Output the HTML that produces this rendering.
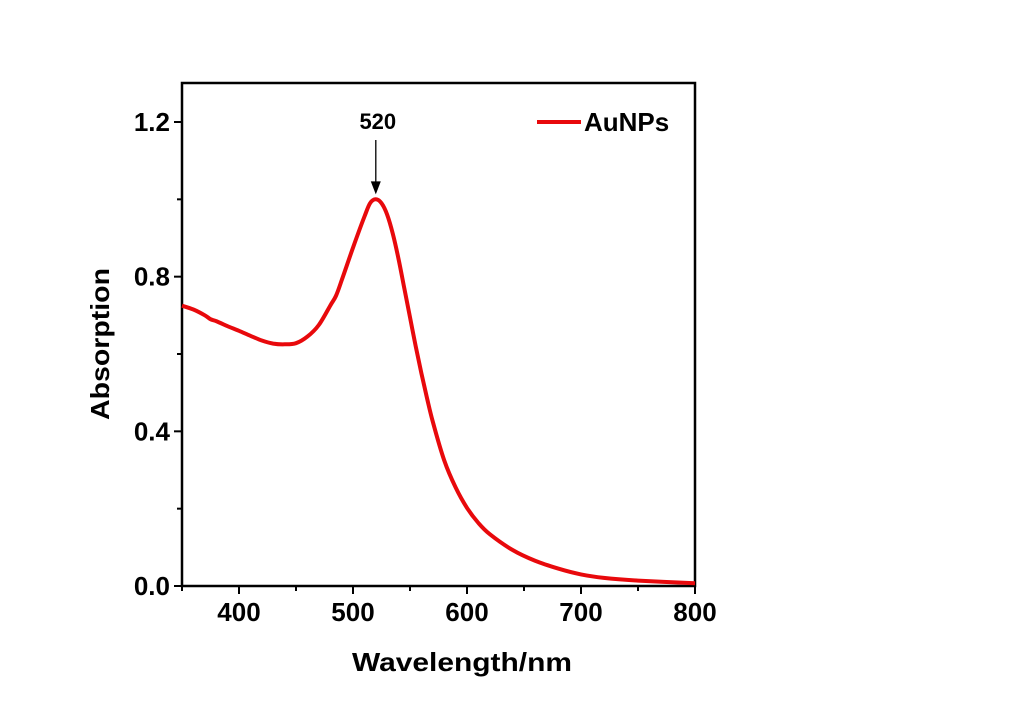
<!DOCTYPE html>
<html><head><meta charset="utf-8"><style>
body{margin:0;background:#fff}
text{font-family:"Liberation Sans",Arial,sans-serif;font-weight:bold;fill:#000}
</style></head><body>
<svg id="chart" width="1024" height="718" viewBox="0 0 1024 718" xmlns="http://www.w3.org/2000/svg">
<rect width="1024" height="718" fill="#fff"/>
<g id="g"></g>
</svg>
<script>
const wavelengths=[350,360,370,375,380,390,400,410,420,430,440,450,460,470,480,485,490,500,510,515,520,525,530,535,540,545,550,555,560,565,570,580,590,600,610,620,640,660,680,700,720,750,800];
const absorbance=[0.725,0.715,0.70,0.69,0.685,0.672,0.66,0.647,0.635,0.627,0.625,0.628,0.645,0.675,0.725,0.75,0.79,0.875,0.955,0.99,1.0,0.99,0.96,0.91,0.845,0.77,0.695,0.62,0.55,0.485,0.425,0.325,0.255,0.202,0.163,0.134,0.093,0.065,0.045,0.03,0.021,0.014,0.007];
const xTicks=[400,500,600,700,800];
const yTicks=[0.0,0.4,0.8,1.2];
const yTickLabels=["0.0","0.4","0.8","1.2"];
const peakValue=520;

const L=182,R=695,T=83,B=586;
const X=v=>L+(v-350)*(R-L)/450;
const Y=v=>B-v*(B-122)/1.2;
const g=document.getElementById('g');
const NS='http://www.w3.org/2000/svg';
function mk(t,a,txt){const e=document.createElementNS(NS,t);for(const k in a)e.setAttribute(k,a[k]);if(txt!=null)e.textContent=txt;g.appendChild(e);return e;}

let e=mk('rect',{x:L,y:T,width:R-L,height:B-T,fill:'none',stroke:'#000','stroke-width':2.5});



for(let v=350;v<=800;v+=50){
  const major=v%100===0;
  e=mk('line',{x1:X(v),x2:X(v),y1:B,y2:B+(major?8:5),stroke:'#000','stroke-width':2});
  
  
}
xTicks.forEach(v=>{
  e=mk('text',{x:X(v),y:B+35,'text-anchor':'middle','font-size':26},String(v));
  
  
});
for(let i=0;i<=6;i++){
  const v=i*0.2;const major=i%2===0;
  e=mk('line',{x1:L,x2:L-(major?8:5),y1:Y(v),y2:Y(v),stroke:'#000','stroke-width':2});
  
  
}
yTicks.forEach((v,i)=>{
  e=mk('text',{x:L-12,y:Y(v)+9,'text-anchor':'end','font-size':26},yTickLabels[i]);
  
  
});
e=mk('text',{x:352,y:671,'font-size':26,textLength:220,lengthAdjust:'spacingAndGlyphs'},'Wavelength/nm');


e=mk('text',{x:0,y:0,'font-size':26,textLength:152,lengthAdjust:'spacingAndGlyphs',transform:'translate(109,420) rotate(-90)'},'Absorption');



const pts=wavelengths.map((w,i)=>[X(w),Y(absorbance[i])]);
let d='M'+pts[0][0].toFixed(1)+','+pts[0][1].toFixed(1);
for(let i=0;i<pts.length-1;i++){
  const p0=pts[i-1]||pts[i],p1=pts[i],p2=pts[i+1],p3=pts[i+2]||p2;
  const c1=[p1[0]+(p2[0]-p0[0])/6,p1[1]+(p2[1]-p0[1])/6];
  const c2=[p2[0]-(p3[0]-p1[0])/6,p2[1]-(p3[1]-p1[1])/6];
  d+=` C${c1[0].toFixed(1)},${c1[1].toFixed(1)} ${c2[0].toFixed(1)},${c2[1].toFixed(1)} ${p2[0].toFixed(1)},${p2[1].toFixed(1)}`;
}
e=mk('path',{d:d,fill:'none',stroke:'#e8090c','stroke-width':4,'stroke-linejoin':'round'});



const px=X(peakValue),py=Y(1.0);
e=mk('line',{x1:px,x2:px,y1:140,y2:py-8,stroke:'#000','stroke-width':1.3});


e=mk('path',{d:`M${px-5},${py-18} L${px},${py-5} L${px+5},${py-18} Z`,fill:'#000'});


e=mk('text',{x:px+2,y:129,'text-anchor':'middle','font-size':22},String(peakValue));



e=mk('line',{x1:537,x2:581,y1:122,y2:122,stroke:'#e8090c','stroke-width':4});


e=mk('text',{x:584,y:131,'font-size':26},'AuNPs');


</script>
</body></html>
